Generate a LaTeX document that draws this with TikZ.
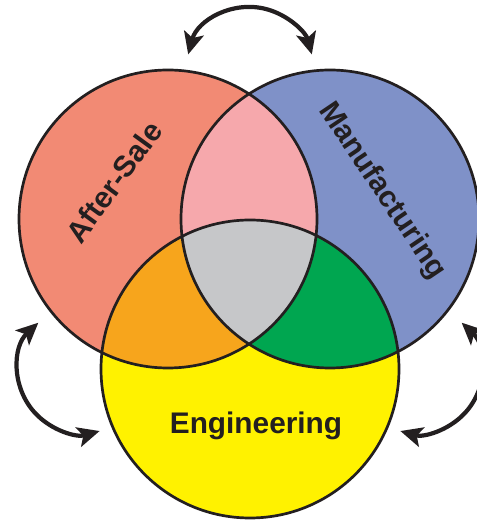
\documentclass[tikz,border=0pt]{standalone}
\usepackage{fontspec}
\setmainfont{Liberation Sans}
\usetikzlibrary{arrows.meta}

\definecolor{outline}{HTML}{231F20}
\definecolor{aftersale}{HTML}{F28A74}
\definecolor{manufact}{HTML}{7F91C8}
\definecolor{engineer}{HTML}{FFF200}
\definecolor{salemanu}{HTML}{F6A8AC}
\definecolor{saleeng}{HTML}{F7A51C}
\definecolor{manueng}{HTML}{00A650}
\definecolor{allthree}{HTML}{C6C7C9}

\tikzset{
  ring/.style={draw=outline, line width=1.35pt},
  swap/.style={draw=outline, line width=2.1pt,
    {Stealth[length=11pt,width=10pt,inset=2.5pt]}-{Stealth[length=11pt,width=10pt,inset=2.5pt]}},
  area/.style={font=\fontsize{14.9}{17}\selectfont\bfseries, text=outline, inner sep=0pt},
}

\begin{document}
\begin{tikzpicture}[x=0.5pt,y=0.5pt]
\useasboundingbox (0,0) rectangle (477,520);
\def\rad{149}
\coordinate (sale) at (168,301);
\coordinate (manu) at (330,301);
\coordinate (eng) at (250,151);
\coordinate (top) at (250,449);
\coordinate (left) at (82,150.5);
\coordinate (right) at (418,150.5);

% plain circles
\fill[aftersale] (sale) circle (\rad);
\fill[manufact] (manu) circle (\rad);
\fill[engineer] (eng) circle (\rad);

% overlaps
\begin{scope}
  \clip (sale) circle (\rad);
  \fill[salemanu] (manu) circle (\rad);
  \fill[saleeng] (eng) circle (\rad);
\end{scope}
\begin{scope}
  \clip (manu) circle (\rad);
  \fill[manueng] (eng) circle (\rad);
\end{scope}
\begin{scope}
  \clip (sale) circle (\rad);
  \clip (manu) circle (\rad);
  \fill[allthree] (eng) circle (\rad);
\end{scope}

\draw[ring] (sale) circle (\rad);
\draw[ring] (manu) circle (\rad);
\draw[ring] (eng) circle (\rad);

% arrows between the areas
\draw[swap] ([shift={(165:64)}]top) arc[start angle=165, end angle=15, radius=64];
\draw[swap] ([shift={(133:64)}]left) arc[start angle=133, end angle=286, radius=64];
\draw[swap] ([shift={(47:64)}]right) arc[start angle=47, end angle=-106, radius=64];

\node[area, rotate=54] (salelabel) at (114,338) {After-Sale};
\node[area, rotate=-56] (manulabel) at (382,329) {Manufacturing};
\node[area] (englabel) at (256,94) {Engineering};
\end{tikzpicture}
\end{document}
